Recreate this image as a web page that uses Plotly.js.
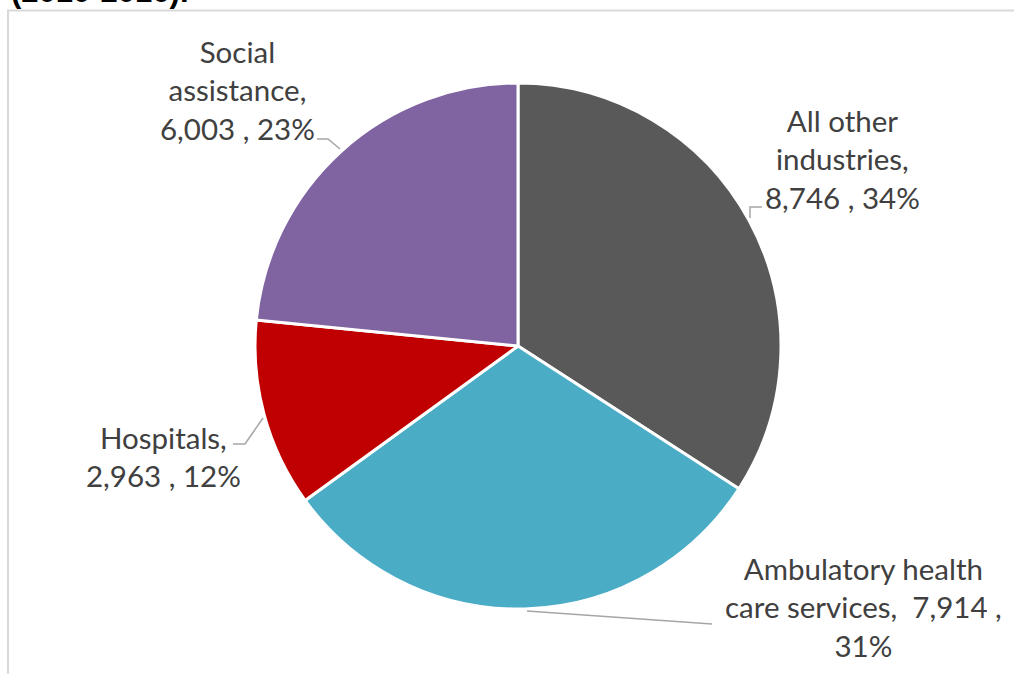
<!DOCTYPE html>
<html>
<head>
<meta charset="utf-8">
<script src="https://cdn.plot.ly/plotly-3.0.1.min.js"></script>
<style>html,body{margin:0;padding:0;background:#fff;}#chart{width:1014px;height:674px;}</style>
</head>
<body>
<div id="chart"></div>
<script>
const categories = ["All other industries", "Ambulatory health care services", "Hospitals", "Social assistance"];
const values = [8746, 7914, 2963, 6003];
const colors = ["#595959", "#4bacc6", "#c00000", "#8064a2"];
const labelLines = [
  ["All other", "industries,"],
  ["Ambulatory health", "care services, "],
  ["Hospitals,"],
  ["Social", "assistance,"]
];
const titleText = "(2010-2016).";

const W = 1014, H = 674;
const px = x => x / W;
const py = y => (H - y) / H;
const total = values.reduce((a, b) => a + b, 0);
const fmt = v => v.toLocaleString("en-US");
const pct = v => Math.round(100 * v / total) + "%";

// label texts built from data
const texts = [
  labelLines[0].join("<br>") + "<br>" + fmt(values[0]) + " , " + pct(values[0]),
  labelLines[1][0] + "<br>" + labelLines[1][1] + " " + fmt(values[1]) + " ,<br>" + pct(values[1]),
  labelLines[2][0] + "<br>" + fmt(values[2]) + " , " + pct(values[2]),
  labelLines[3].join("<br>") + "<br>" + fmt(values[3]) + " , " + pct(values[3])
];
// label anchor positions (pixels, centre of text block)
const labelPos = [[842, 159], [863, 607], [163, 456], [237, 90]];
const font = {family: "Lato, 'Open Sans', sans-serif", size: 29.5, color: "#404040"};

const annotations = texts.map((t, i) => ({
  xref: "paper", yref: "paper", x: px(labelPos[i][0]), y: py(labelPos[i][1]),
  xanchor: "center", yanchor: "middle", text: t, showarrow: false, align: "center", font: font
}));
annotations.push({
  xref: "paper", yref: "paper", x: px(9), y: py(11), xanchor: "left", yanchor: "bottom",
  text: "<b>" + titleText + "</b>", showarrow: false,
  font: {family: "'Liberation Sans', Arial, sans-serif", size: 31, color: "#000"}
});

const leaders = [
  [[762, 207], [750, 207], [750, 218]],
  [[527, 611], [712, 624]],
  [[233, 444], [245, 444], [263, 418]],
  [[317, 139], [328, 139], [340, 149]]
];
const shapes = leaders.map(pts => ({
  type: "path", xref: "paper", yref: "paper",
  path: "M" + pts.map(p => px(p[0]) + "," + py(p[1])).join(" L"),
  line: {color: "#a6a6a6", width: 1.5}
}));
// chart area border (left and top)
shapes.push({type: "line", xref: "paper", yref: "paper", x0: px(8), x1: px(8), y0: py(10), y1: py(680), line: {color: "#d9d9d9", width: 2}});
shapes.push({type: "line", xref: "paper", yref: "paper", x0: px(7), x1: px(1020), y0: py(10.5), y1: py(10.5), line: {color: "#d9d9d9", width: 2}});

const cx = 518, cy = 346, r = 263;
const trace = {
  type: "pie",
  labels: categories,
  values: values,
  sort: false,
  direction: "clockwise",
  rotation: 0,
  marker: {colors: colors, line: {color: "#ffffff", width: 3}},
  textinfo: "none",
  hoverinfo: "label+value+percent",
  showlegend: false,
  domain: {x: [px(cx - r), px(cx + r)], y: [py(cy + r), py(cy - r)]}
};

Plotly.newPlot("chart", [trace], {
  width: W, height: H,
  margin: {l: 0, r: 0, t: 0, b: 0},
  paper_bgcolor: "#fff",
  showlegend: false,
  annotations: annotations,
  shapes: shapes
}, {displayModeBar: false, staticPlot: true});
</script>
</body>
</html>
